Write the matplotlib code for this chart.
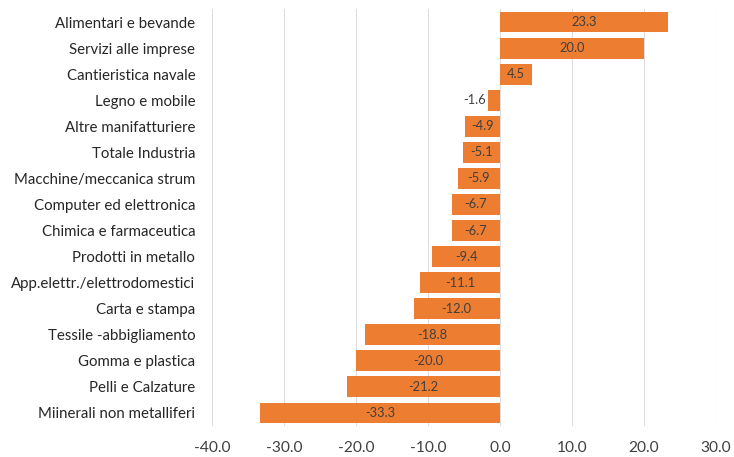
import matplotlib
matplotlib.use("Agg")
import matplotlib.pyplot as plt

categories = [
    "Alimentari e bevande",
    "Servizi alle imprese",
    "Cantieristica navale",
    "Legno e mobile",
    "Altre manifatturiere",
    "Totale Industria",
    "Macchine/meccanica strum",
    "Computer ed elettronica",
    "Chimica e farmaceutica",
    "Prodotti in metallo",
    "App.elettr./elettrodomestici",
    "Carta e stampa",
    "Tessile -abbigliamento",
    "Gomma e plastica",
    "Pelli e Calzature",
    "Miinerali non metalliferi",
]
values = [23.3, 20.0, 4.5, -1.6, -4.9, -5.1, -5.9, -6.7, -6.7, -9.4,
          -11.1, -12.0, -18.8, -20.0, -21.2, -33.3]
xticks = [-40, -30, -20, -10, 0, 10, 20, 30]

plt.rcParams["font.family"] = ["Lato", "DejaVu Sans"]

fig = plt.figure(figsize=(7.34, 4.57), dpi=100)
ax = fig.add_axes([212 / 734, 31 / 457, 504 / 734, 417 / 457])

bar_color = "#ED7D31"
text_color = "#404040"
pos = list(range(len(categories)))
ax.barh(pos, values, height=0.8, color=bar_color, zorder=2)

ax.set_xlim(-40, 30)
ax.set_ylim(len(categories) - 0.5, -0.5)
ax.set_xticks(xticks)
ax.set_xticklabels([f"{t:.1f}" for t in xticks], fontsize=11.2, color=text_color)
ax.set_yticks(pos)
ax.set_yticklabels(categories, fontsize=10.8, color="#262626")
ax.tick_params(axis="both", length=0)
ax.tick_params(axis="y", pad=12)
ax.tick_params(axis="x", pad=11)

for s in ax.spines.values():
    s.set_visible(False)
ax.grid(axis="x", color="#DDDDDD", linewidth=0.8, zorder=0)
ax.set_axisbelow(True)

for p, v in zip(pos, values):
    if abs(v) < 3:
        ax.text(v - 0.3 if v < 0 else v + 0.3, p, f"{v:.1f}",
                ha="right" if v < 0 else "left", va="center",
                fontsize=9.3, color=text_color)
    else:
        ax.text(v / 2, p, f"{v:.1f}", ha="center", va="center",
                fontsize=9.3, color=text_color)

fig.savefig("out.png", dpi=100)
